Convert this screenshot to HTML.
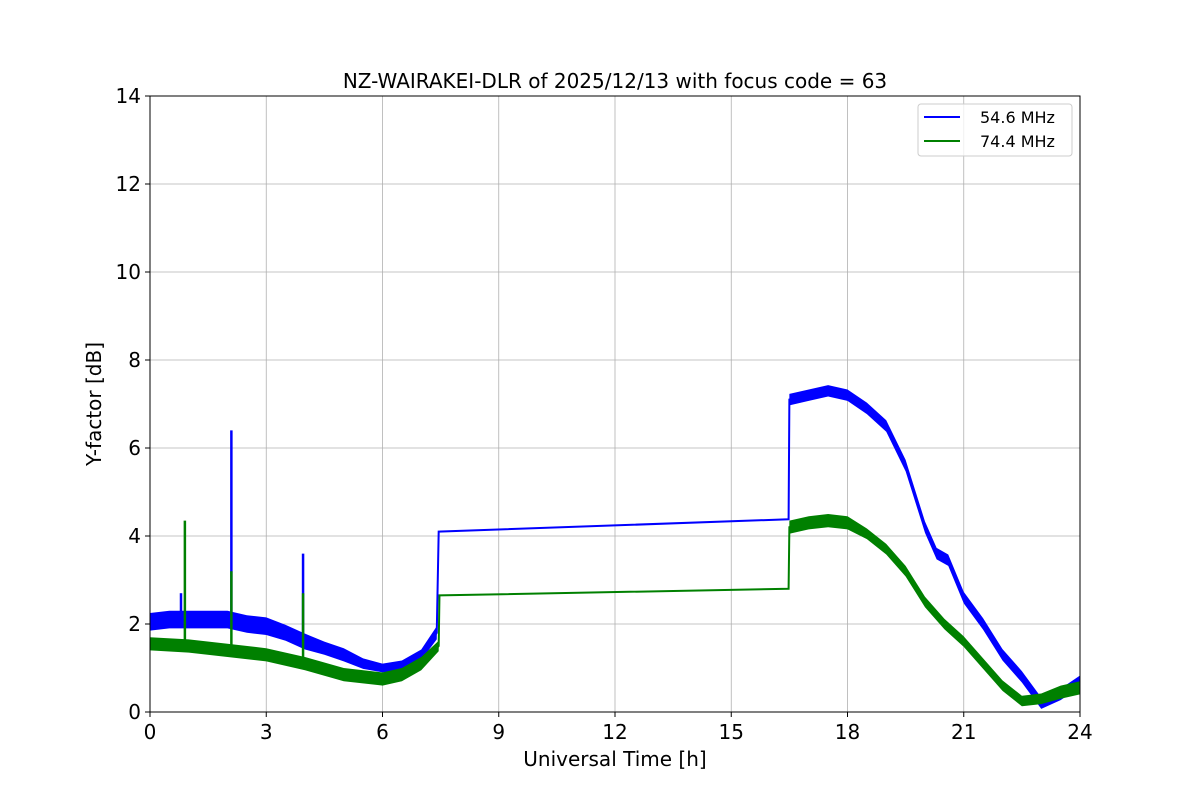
<!DOCTYPE html>
<html><head><meta charset="utf-8">
<style>
body{margin:0;background:#fff;font-family:"Liberation Sans","DejaVu Sans",sans-serif;}
svg text{font-family:"DejaVu Sans","Liberation Sans",sans-serif;}
</style></head>
<body>
<svg id="chart" width="1200" height="800">
</svg>
<script>
const xTicks=[0,3,6,9,12,15,18,21,24];
const yTicks=[0,2,4,6,8,10,12,14];
const blueT=[0,0.5,1,1.5,2,2.5,3,3.5,4,4.5,5,5.5,6,6.5,7,7.4,7.45,16.48,16.5,17,17.5,18,18.5,19,19.5,20,20.3,20.6,21,21.5,22,22.5,23,23.5,24];
const blueV=[2.05,2.1,2.1,2.1,2.1,2.0,1.95,1.8,1.6,1.45,1.3,1.1,1.0,1.05,1.3,1.8,4.1,4.38,7.1,7.2,7.3,7.2,6.9,6.5,5.6,4.2,3.6,3.45,2.6,2.0,1.3,0.8,0.2,0.4,0.7];
const blueN=[0.2,0.2,0.2,0.2,0.2,0.2,0.2,0.18,0.18,0.15,0.15,0.12,0.1,0.12,0.12,0.15,0,0,0.13,0.13,0.13,0.13,0.13,0.13,0.13,0.13,0.13,0.13,0.13,0.13,0.13,0.13,0.13,0.13,0.13];
const blueSpikeT=[0.8,2.1,3.95];
const blueSpikeV=[2.7,6.4,3.6];
const greenT=[0,1,2,3,4,5,6,6.5,7,7.45,7.47,16.48,16.5,17,17.5,18,18.5,19,19.5,20,20.5,21,21.5,22,22.5,23,23.5,24];
const greenV=[1.55,1.5,1.4,1.3,1.1,0.85,0.75,0.85,1.1,1.5,2.65,2.8,4.2,4.3,4.35,4.3,4.05,3.7,3.2,2.5,2.0,1.6,1.1,0.6,0.25,0.3,0.45,0.55];
const greenN=[0.15,0.15,0.15,0.15,0.15,0.15,0.15,0.15,0.15,0.12,0,0,0.15,0.15,0.15,0.15,0.12,0.12,0.12,0.12,0.12,0.12,0.12,0.12,0.12,0.12,0.15,0.15];
const greenSpikeT=[0.9,2.1,3.95];
const greenSpikeV=[4.35,3.2,2.7];

const NS="http://www.w3.org/2000/svg";
const svg=document.getElementById('chart');
const L=150,R=1080,T=96,B=712;
const X=t=>L+(t-0)/24*(R-L);
const Y=v=>B-(v/14)*(B-T);
function el(tag,attrs,parent){const e=document.createElementNS(NS,tag);for(const k in attrs)e.setAttribute(k,attrs[k]);(parent||svg).appendChild(e);return e;}

xTicks.forEach(t=>{const g=el('line',{x1:X(t),x2:X(t),y1:T,y2:B,stroke:'#b0b0b0','stroke-width':0.8});

});
yTicks.forEach(v=>{const g=el('line',{x1:L,x2:R,y1:Y(v),y2:Y(v),stroke:'#b0b0b0','stroke-width':0.8});

});

function series(ts,vs,ns,sT,sV,color,name){
  const g=el('g',{});
  
  
  let up=[],dn=[];
  for(let i=0;i<ts.length;i++){up.push(X(ts[i])+','+Y(vs[i]+ns[i]));dn.unshift(X(ts[i])+','+Y(vs[i]-ns[i]));}
  const band=el('polygon',{points:up.concat(dn).join(' '),fill:color},g);
  
  
  const pts=ts.map((t,i)=>X(t)+','+Y(vs[i])).join(' ');
  const ln=el('polyline',{points:pts,fill:'none',stroke:color,'stroke-width':2},g);
  
  
  sT.forEach((t,i)=>{
    let base=vs[0];
    for(let j=0;j<ts.length-1;j++){if(t>=ts[j]&&t<=ts[j+1]){base=vs[j]+(vs[j+1]-vs[j])*(t-ts[j])/(ts[j+1]-ts[j]);}}
    const s=el('line',{x1:X(t),x2:X(t),y1:Y(base),y2:Y(sV[i]),stroke:color,'stroke-width':2.5},g);
    
    
  });
}
series(blueT,blueV,blueN,blueSpikeT,blueSpikeV,'#0000ff','series-54-6-mhz');
series(greenT,greenV,greenN,greenSpikeT,greenSpikeV,'#008000','series-74-4-mhz');

const fr=el('rect',{x:L,y:T,width:R-L,height:B-T,fill:'none',stroke:'#000','stroke-width':1});


xTicks.forEach(t=>{
  el('line',{x1:X(t),x2:X(t),y1:B,y2:B+5,stroke:'#000'});
  const tx=el('text',{x:X(t),y:B+27,'font-size':20,'text-anchor':'middle'});tx.textContent=t;
  
  
});
yTicks.forEach(v=>{
  el('line',{x1:L-5,x2:L,y1:Y(v),y2:Y(v),stroke:'#000'});
  const tx=el('text',{x:L-9,y:Y(v)+7,'font-size':20,'text-anchor':'end'});tx.textContent=v;
  
  
});
</script>
<svg width="1200" height="800" style="position:absolute;left:0;top:0">
<text x="615" y="88" font-size="20" text-anchor="middle">NZ-WAIRAKEI-DLR of 2025/12/13 with focus code = 63</text>
<text x="615" y="766" font-size="20" text-anchor="middle">Universal Time [h]</text>
<text x="101" y="404" font-size="20" text-anchor="middle" transform="rotate(-90 101 404)">Y-factor [dB]</text>
<g>
<rect x="918" y="104" width="154" height="52" rx="3" fill="#fff" fill-opacity="0.8" stroke="#ccc"/>
<line x1="924" x2="960" y1="117" y2="117" stroke="#0000ff" stroke-width="2"/>
<text x="980" y="123" font-size="16">54.6 MHz</text>
<line x1="924" x2="960" y1="141" y2="141" stroke="#008000" stroke-width="2"/>
<text x="980" y="147" font-size="16">74.4 MHz</text>
</g>
</svg>
</body></html>
